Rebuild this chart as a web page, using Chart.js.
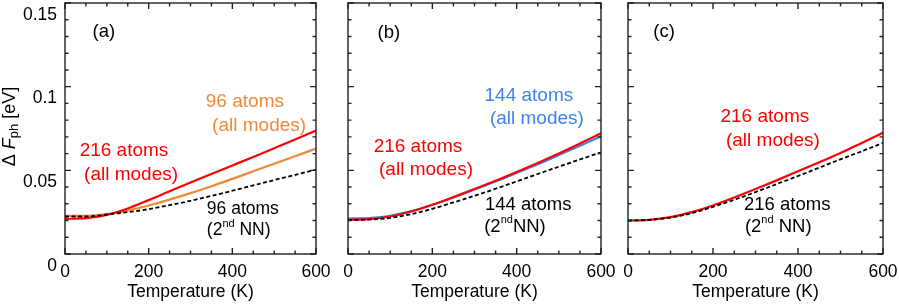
<!DOCTYPE html>
<html>
<head>
<meta charset="utf-8">
<script src="https://cdn.jsdelivr.net/npm/chart.js@4"></script>
<style>
  body { margin: 0; background: #fff; }
  #wrap { position: relative; width: 899px; height: 305px; }
  #wrap canvas { position: absolute; top: 0; }
</style>
</head>
<body>
<div id="wrap">
  <canvas id="pa" width="332" height="305" style="left:0px"></canvas>
  <canvas id="pb" width="284" height="305" style="left:332px"></canvas>
  <canvas id="pc" width="283" height="305" style="left:616px"></canvas>
</div>
<script>
// temperatures (K) and free energy values (eV)
var temps = [0, 50, 100, 150, 200, 250, 300, 350, 400, 450, 500, 550, 600];

var redA    = [0.0210, 0.0214, 0.0234, 0.0272, 0.0322, 0.0375, 0.0427, 0.0478, 0.0529, 0.0580, 0.0632, 0.0684, 0.0738];
var orangeA = [0.0228, 0.0228, 0.0238, 0.0260, 0.0290, 0.0325, 0.0364, 0.0405, 0.0449, 0.0494, 0.0539, 0.0584, 0.0630];
var blackA  = [0.0224, 0.0224, 0.0236, 0.0250, 0.0268, 0.0292, 0.0318, 0.0347, 0.0378, 0.0410, 0.0442, 0.0473, 0.0504];

var redB    = [0.0204, 0.0208, 0.0224, 0.0254, 0.0294, 0.0340, 0.0388, 0.0438, 0.0490, 0.0544, 0.0600, 0.0660, 0.0722];
var blueB   = [0.0212, 0.0215, 0.0228, 0.0256, 0.0294, 0.0338, 0.0385, 0.0433, 0.0484, 0.0536, 0.0591, 0.0647, 0.0704];
var blackB  = [0.0204, 0.0206, 0.0216, 0.0238, 0.0270, 0.0308, 0.0348, 0.0390, 0.0434, 0.0478, 0.0522, 0.0565, 0.0608];

var redC    = [0.0200, 0.0204, 0.0220, 0.0250, 0.0290, 0.0338, 0.0388, 0.0440, 0.0494, 0.0548, 0.0604, 0.0664, 0.0724];
var blackC  = [0.0200, 0.0204, 0.0218, 0.0244, 0.0282, 0.0324, 0.0370, 0.0418, 0.0466, 0.0516, 0.0566, 0.0614, 0.0664];

var xTickValues = [0, 200, 400, 600];
var yTickValues = [0, 0.05, 0.1, 0.15];

var FONT = '"Liberation Sans", Arial, Helvetica, sans-serif';
var RED = '#ff0000', ORANGE = '#ee893b', BLUE = '#3d82ee', BLACK = '#000000';

function pts(vals) {
    return temps.map(function(t, i) { return { x: t, y: vals[i] }; });
}

function solid(vals, color) {
    return { data: pts(vals), borderColor: color, borderWidth: 2.2, pointRadius: 0,
             cubicInterpolationMode: 'monotone', fill: false };
}
function dashed(vals) {
    return { data: pts(vals), borderColor: BLACK, borderWidth: 1.8, borderDash: [4, 2.5],
             pointRadius: 0, cubicInterpolationMode: 'monotone', fill: false };
}

// box around plot area with inward ticks on all four sides
var framePlugin = {
    id: 'frame',
    afterDatasetsDraw: function(chart) {
        var ctx = chart.ctx, a = chart.chartArea, x = chart.scales.x, y = chart.scales.y;
        ctx.save();
        ctx.strokeStyle = '#222';
        ctx.lineWidth = 1.4;
        ctx.beginPath();
        for (var t = 0; t <= 600; t += 50) {
            var px = x.getPixelForValue(t), len = (t % 200 === 0) ? 6 : 3.5;
            ctx.moveTo(px, a.bottom); ctx.lineTo(px, a.bottom - len);
            ctx.moveTo(px, a.top); ctx.lineTo(px, a.top + len);
        }
        for (var i = 0; i <= 15; i++) {
            var py = y.getPixelForValue(i / 100), l2 = (i % 5 === 0) ? 6 : 3.5;
            ctx.moveTo(a.left, py); ctx.lineTo(a.left + l2, py);
            ctx.moveTo(a.right, py); ctx.lineTo(a.right - l2, py);
        }
        ctx.stroke();
        ctx.strokeRect(a.left, a.top, a.right - a.left, a.bottom - a.top);
        ctx.restore();
    }
};

// text labels inside the panels, placed in data coordinates
var notesPlugin = {
    id: 'notes',
    afterDatasetsDraw: function(chart, args, opts) {
        var ctx = chart.ctx, xs = chart.scales.x, ys = chart.scales.y;
        ctx.save();
        ctx.textBaseline = 'middle';
        ctx.textAlign = 'left';
        (opts.items || []).forEach(function(n) {
            var parts = n.parts || [[n.text, '']];
            var big = n.size + 'px ' + FONT;
            var small = Math.round(n.size * 0.62) + 'px ' + FONT;
            var w = 0;
            parts.forEach(function(p) {
                ctx.font = p[1] === 'sup' ? small : big;
                w += ctx.measureText(p[0]).width;
            });
            var x = xs.getPixelForValue(n.x), y = ys.getPixelForValue(n.y);
            if (n.align === 'center') x -= w / 2;
            ctx.fillStyle = n.color;
            parts.forEach(function(p) {
                ctx.font = p[1] === 'sup' ? small : big;
                ctx.fillText(p[0], x, p[1] === 'sup' ? y - n.size * 0.36 : y);
                x += ctx.measureText(p[0]).width;
            });
        });
        ctx.restore();
    }
};

// rotated y title with italic F and subscript
var yTitlePlugin = {
    id: 'ytitle',
    afterDraw: function(chart, args, opts) {
        if (!opts.show) return;
        var ctx = chart.ctx, a = chart.chartArea;
        var parts = [
            ['\u0394 ', '18px ' + FONT, 0],
            ['F', 'italic 18px ' + FONT, 0],
            ['ph', '13px ' + FONT, 4],
            [' [eV]', '18px ' + FONT, 0]
        ];
        ctx.save();
        var w = 0;
        parts.forEach(function(p) { ctx.font = p[1]; w += ctx.measureText(p[0]).width; });
        ctx.translate(10, (a.top + a.bottom) / 2 - 2);
        ctx.rotate(-Math.PI / 2);
        ctx.fillStyle = '#000';
        ctx.textBaseline = 'middle';
        ctx.textAlign = 'left';
        var x = -w / 2;
        parts.forEach(function(p) {
            ctx.font = p[1];
            ctx.fillText(p[0], x, p[2]);
            x += ctx.measureText(p[0]).width;
        });
        ctx.restore();
    }
};

function makePanel(id, datasets, notes, padLeft, padRight, showY) {
    var ctx = document.getElementById(id).getContext('2d');
    return new Chart(ctx, {
        type: 'line',
        data: { datasets: datasets },
        options: {
            responsive: false,
            animation: false,
            layout: { padding: { left: padLeft, right: padRight, top: 3, bottom: 0 } },
            plugins: {
                legend: { display: false },
                tooltip: { enabled: false },
                notes: { items: notes },
                ytitle: { show: showY }
            },
            scales: {
                x: {
                    type: 'linear',
                    min: 0, max: 600,
                    afterBuildTicks: function(s) { s.ticks = xTickValues.map(function(v) { return { value: v }; }); },
                    grid: { display: false, drawTicks: false },
                    border: { display: false },
                    ticks: { color: '#000', font: { family: FONT, size: 17.5 }, padding: 8, maxRotation: 0, autoSkip: false },
                    title: { display: true, text: 'Temperature (K)', color: '#000',
                             font: { family: FONT, size: 17.5 }, padding: { top: 0, bottom: 2 } },
                    afterFit: function(s) { s.height = 51; s.paddingLeft = 0; s.paddingRight = 0; }
                },
                y: {
                    type: 'linear',
                    display: showY,
                    min: 0, max: 0.15,
                    afterBuildTicks: function(s) { s.ticks = yTickValues.map(function(v) { return { value: v }; }); },
                    grid: { display: false, drawTicks: false },
                    border: { display: false },
                    ticks: {
                        color: '#000', font: { family: FONT, size: 17.5 }, padding: 8, labelOffset: 12,
                        callback: function(v) { return String(+v.toFixed(2)); }
                    },
                    afterFit: function(s) { if (showY) s.width = 65; s.paddingTop = 0; s.paddingBottom = 0; }
                }
            }
        },
        plugins: [framePlugin, notesPlugin, yTitlePlugin]
    });
}

var nnA = [['(2', ''], ['nd', 'sup'], [' NN)', '']];
var nnB = [['(2', ''], ['nd', 'sup'], ['NN)', '']];

makePanel('pa', [dashed(blackA), solid(redA, RED), solid(orangeA, ORANGE)], [
    { text: '(a)', x: 93, y: 0.1326, color: BLACK, size: 18.5, align: 'center' },
    { text: '96 atoms', x: 430, y: 0.0912, color: ORANGE, size: 19, align: 'center' },
    { text: '(all modes)', x: 464, y: 0.0768, color: ORANGE, size: 19, align: 'center' },
    { text: '216 atoms', x: 141, y: 0.0618, color: RED, size: 19, align: 'center' },
    { text: '(all modes)', x: 158, y: 0.0474, color: RED, size: 19, align: 'center' },
    { text: '96 atoms', x: 339, y: 0.0270, color: BLACK, size: 17.5, align: 'left' },
    { parts: nnA, x: 339, y: 0.0144, color: BLACK, size: 17.5, align: 'left' }
], 0, 16, true);

makePanel('pb', [dashed(blackB), solid(redB, RED), solid(blueB, BLUE)], [
    { text: '(b)', x: 97, y: 0.1320, color: BLACK, size: 18.5, align: 'center' },
    { text: '144 atoms', x: 429, y: 0.0948, color: BLUE, size: 19, align: 'center' },
    { text: '(all modes)', x: 448, y: 0.0810, color: BLUE, size: 19, align: 'center' },
    { text: '216 atoms', x: 166, y: 0.0642, color: RED, size: 19, align: 'center' },
    { text: '(all modes)', x: 185, y: 0.0504, color: RED, size: 19, align: 'center' },
    { text: '144 atoms', x: 325, y: 0.0294, color: BLACK, size: 18.5, align: 'left' },
    { parts: nnB, x: 323, y: 0.0162, color: BLACK, size: 18.5, align: 'left' }
], 16, 15, false);

makePanel('pc', [dashed(blackC), solid(redC, RED)], [
    { text: '(c)', x: 85, y: 0.1326, color: BLACK, size: 18.5, align: 'center' },
    { text: '216 atoms', x: 322, y: 0.0822, color: RED, size: 19, align: 'center' },
    { text: '(all modes)', x: 341, y: 0.0678, color: RED, size: 19, align: 'center' },
    { text: '216 atoms', x: 273, y: 0.0294, color: BLACK, size: 18.5, align: 'left' },
    { parts: nnA, x: 275, y: 0.0162, color: BLACK, size: 18.5, align: 'left' }
], 12, 16, false);
</script>
</body>
</html>
